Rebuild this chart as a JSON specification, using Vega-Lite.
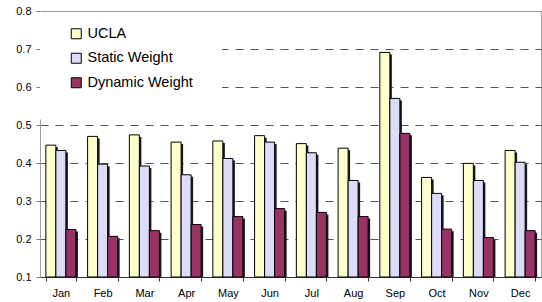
{
  "$schema": "https://vega.github.io/schema/vega-lite/v6.json",
  "width": 501,
  "height": 266,
  "autosize": {"type": "none"},
  "padding": {"left": 40, "top": 11, "right": 1, "bottom": 25},
  "background": "white",
  "config": {
    "font": "Liberation Sans",
    "view": {"stroke": "#a0a0a0", "strokeWidth": 1},
    "axis": {"labelFont": "Liberation Sans", "labelColor": "black", "title": null}
  },
  "data": {
    "values": [
      {"month": "Jan", "series": "UCLA", "value": 0.447},
      {"month": "Jan", "series": "Static Weight", "value": 0.433},
      {"month": "Jan", "series": "Dynamic Weight", "value": 0.225},
      {"month": "Feb", "series": "UCLA", "value": 0.470},
      {"month": "Feb", "series": "Static Weight", "value": 0.397},
      {"month": "Feb", "series": "Dynamic Weight", "value": 0.207},
      {"month": "Mar", "series": "UCLA", "value": 0.474},
      {"month": "Mar", "series": "Static Weight", "value": 0.392},
      {"month": "Mar", "series": "Dynamic Weight", "value": 0.222},
      {"month": "Apr", "series": "UCLA", "value": 0.455},
      {"month": "Apr", "series": "Static Weight", "value": 0.369},
      {"month": "Apr", "series": "Dynamic Weight", "value": 0.238},
      {"month": "May", "series": "UCLA", "value": 0.458},
      {"month": "May", "series": "Static Weight", "value": 0.412},
      {"month": "May", "series": "Dynamic Weight", "value": 0.259},
      {"month": "Jun", "series": "UCLA", "value": 0.472},
      {"month": "Jun", "series": "Static Weight", "value": 0.455},
      {"month": "Jun", "series": "Dynamic Weight", "value": 0.280},
      {"month": "Jul", "series": "UCLA", "value": 0.451},
      {"month": "Jul", "series": "Static Weight", "value": 0.427},
      {"month": "Jul", "series": "Dynamic Weight", "value": 0.270},
      {"month": "Aug", "series": "UCLA", "value": 0.439},
      {"month": "Aug", "series": "Static Weight", "value": 0.354},
      {"month": "Aug", "series": "Dynamic Weight", "value": 0.259},
      {"month": "Sep", "series": "UCLA", "value": 0.691},
      {"month": "Sep", "series": "Static Weight", "value": 0.570},
      {"month": "Sep", "series": "Dynamic Weight", "value": 0.478},
      {"month": "Oct", "series": "UCLA", "value": 0.362},
      {"month": "Oct", "series": "Static Weight", "value": 0.320},
      {"month": "Oct", "series": "Dynamic Weight", "value": 0.226},
      {"month": "Nov", "series": "UCLA", "value": 0.399},
      {"month": "Nov", "series": "Static Weight", "value": 0.354},
      {"month": "Nov", "series": "Dynamic Weight", "value": 0.204},
      {"month": "Dec", "series": "UCLA", "value": 0.433},
      {"month": "Dec", "series": "Static Weight", "value": 0.402},
      {"month": "Dec", "series": "Dynamic Weight", "value": 0.222}
    ]
  },
  "layer": [
    {
      "mark": {"type": "bar", "color": "#1a1a1a", "yOffset": 2, "clip": true},
      "encoding": {
        "x": {
          "field": "month",
          "type": "nominal",
          "sort": ["Jan", "Feb", "Mar", "Apr", "May", "Jun", "Jul", "Aug", "Sep", "Oct", "Nov", "Dec"],
          "scale": {"paddingInner": 0.28, "paddingOuter": 0.14},
          "axis": {"orient": "bottom", "labels": false, "ticks": false, "domain": false, "grid": false}
        },
        "xOffset": {
          "field": "series",
          "type": "nominal",
          "sort": ["UCLA", "Static Weight", "Dynamic Weight"],
          "scale": {"range": [2, 32.06]}
        },
        "y": {
          "field": "value",
          "type": "quantitative",
          "scale": {"domain": [0.1, 0.8], "nice": false, "zero": false},
          "axis": {
            "values": [0.1, 0.2, 0.3, 0.4, 0.5, 0.6, 0.7, 0.8],
            "format": ".1f",
            "labelFontSize": 11,
            "labelPadding": 5,
            "tickSize": 4,
            "tickColor": "#808080",
            "domainColor": "#a0a0a0",
            "grid": true,
            "gridColor": "#555555",
            "gridDash": [8, 7],
            "gridWidth": 1
          }
        },
        "y2": {"datum": 0.1}
      }
    },
    {
      "mark": {"type": "bar", "stroke": "black", "strokeWidth": 1},
      "encoding": {
        "x": {
          "field": "month",
          "type": "nominal",
          "sort": ["Jan", "Feb", "Mar", "Apr", "May", "Jun", "Jul", "Aug", "Sep", "Oct", "Nov", "Dec"],
          "axis": {
            "orient": "bottom",
            "labelAngle": 0,
            "labelFontSize": 11,
            "labelPadding": 6,
            "tickBand": "extent",
            "tickSize": 4,
            "tickColor": "#333333",
            "domainColor": "#333333",
            "grid": false
          }
        },
        "xOffset": {
          "field": "series",
          "type": "nominal",
          "sort": ["UCLA", "Static Weight", "Dynamic Weight"]
        },
        "y": {
          "field": "value",
          "type": "quantitative",
          "axis": {
            "values": [0.1, 0.2, 0.3, 0.4, 0.5, 0.6, 0.7, 0.8],
            "format": ".1f",
            "labelFontSize": 11,
            "labelPadding": 5,
            "tickSize": 4,
            "tickColor": "#808080",
            "domainColor": "#a0a0a0",
            "grid": true,
            "gridColor": "#555555",
            "gridDash": [8, 7],
            "gridWidth": 1
          }
        },
        "y2": {"datum": 0.1},
        "color": {
          "field": "series",
          "type": "nominal",
          "sort": ["UCLA", "Static Weight", "Dynamic Weight"],
          "scale": {
            "domain": ["UCLA", "Static Weight", "Dynamic Weight"],
            "range": ["#ffffcc", "#dcdcf8", "#993366"]
          },
          "legend": {
            "title": null,
            "orient": "none",
            "legendX": 0,
            "legendY": -13.5,
            "padding": 29,
            "fillColor": "white",
            "symbolType": "square",
            "symbolSize": 100,
            "symbolStrokeColor": "black",
            "symbolStrokeWidth": 1,
            "labelFont": "Liberation Sans",
            "labelFontSize": 14.5,
            "labelColor": "black",
            "labelOffset": 4,
            "rowPadding": 8.5
          }
        }
      }
    },
    {
      "mark": {"type": "bar", "opacity": 0},
      "encoding": {
        "x": {
          "field": "month",
          "type": "nominal",
          "sort": ["Jan", "Feb", "Mar", "Apr", "May", "Jun", "Jul", "Aug", "Sep", "Oct", "Nov", "Dec"],
          "axis": {
            "orient": "top",
            "domain": true,
            "domainColor": "#999999",
            "ticks": false,
            "labels": false,
            "grid": false,
            "zindex": 1
          }
        }
      }
    }
  ],
  "resolve": {"scale": {"x": "shared", "xOffset": "independent"}, "axis": {"x": "independent"}}
}
